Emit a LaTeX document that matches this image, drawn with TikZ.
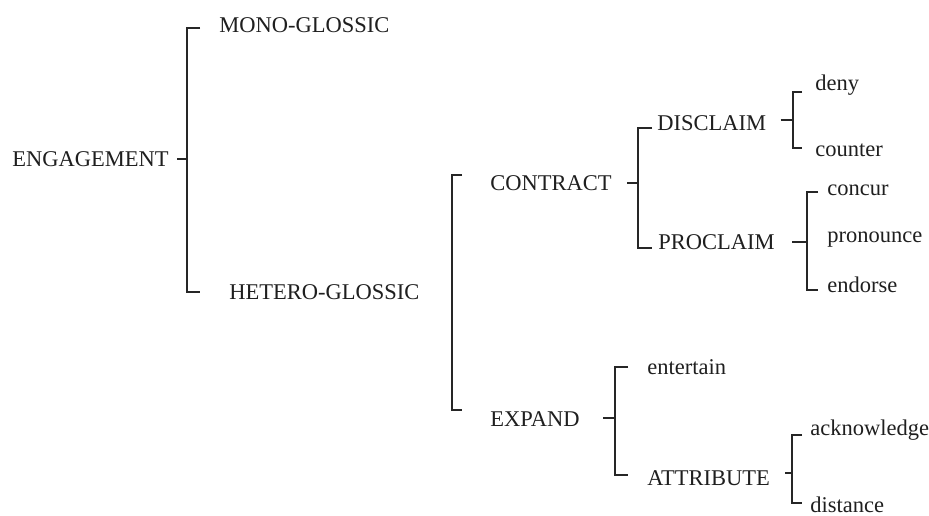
\documentclass[tikz,border=0pt]{standalone}
\usepackage{fontspec}
\setmainfont{Liberation Serif}
\usetikzlibrary{calc}
\begin{document}
\begin{tikzpicture}[x=0.5pt,y=-0.5pt,
  lbl/.style={anchor=west,inner sep=0pt,text=black!88,font=\fontsize{11.25}{13}\selectfont},
  br/.style={draw=black!85,line width=1.2pt,line join=miter}]
\useasboundingbox[fill=white] (0,0) rectangle (929,515);
% labels
\node[lbl] (eng) at (12,159) {ENGAGEMENT};
\node[lbl] (mono) at (219,25) {MONO-GLOSSIC};
\node[lbl] (het) at (229,292) {HETERO-GLOSSIC};
\node[lbl] (con) at (490,183) {CONTRACT};
\node[lbl] (exp) at (490,419) {EXPAND};
\node[lbl] (dis) at (657,123) {DISCLAIM};
\node[lbl] (pro) at (658,242) {PROCLAIM};
\node[lbl] (deny) at (815,85) {deny};
\node[lbl] (cou) at (815,150) {counter};
\node[lbl] (conc) at (827,190) {concur};
\node[lbl] (pron) at (827,240) {pronounce};
\node[lbl] (endo) at (827,285) {endorse};
\node[lbl] (ent) at (647,367) {entertain};
\node[lbl] (att) at (647,478) {ATTRIBUTE};
\node[lbl] (ack) at (810,430) {acknowledge};
\node[lbl] (dist) at (810,505) {distance};
% junction coordinates
\coordinate (j1) at (187,159);
\coordinate (j3) at (638,183);
\coordinate (j4) at (793,120);
\coordinate (j5) at (807,242);
\coordinate (j6) at (615,418);
\coordinate (j7) at (792,473);
% brackets
\draw[br] (200,28) -- (187,28) -- (187,292) -- (200,292);
\draw[br] (462,175) -- (452,175) -- (452,410) -- (462,410);
\draw[br] (652,128) -- (638,128) -- (638,248) -- (652,248);
\draw[br] (802,92) -- (793,92) -- (793,148) -- (802,148);
\draw[br] (818,192) -- (807,192) -- (807,290) -- (818,290);
\draw[br] (628,367) -- (615,367) -- (615,475) -- (628,475);
\draw[br] (802,435) -- (792,435) -- (792,503) -- (802,503);
% stems
\draw[br] ($(eng.east |- j1)+(8,0)$) -- (j1);
\draw[br] ($(con.east |- j3)+(15,0)$) -- (j3);
\draw[br] ($(dis.east |- j4)+(14,0)$) -- (j4);
\draw[br] ($(pro.east |- j5)+(17,0)$) -- (j5);
\draw[br] ($(exp.east |- j6)+(23,0)$) -- (j6);
\draw[br] ($(att.east |- j7)+(15,0)$) -- (j7);
\end{tikzpicture}
\end{document}
